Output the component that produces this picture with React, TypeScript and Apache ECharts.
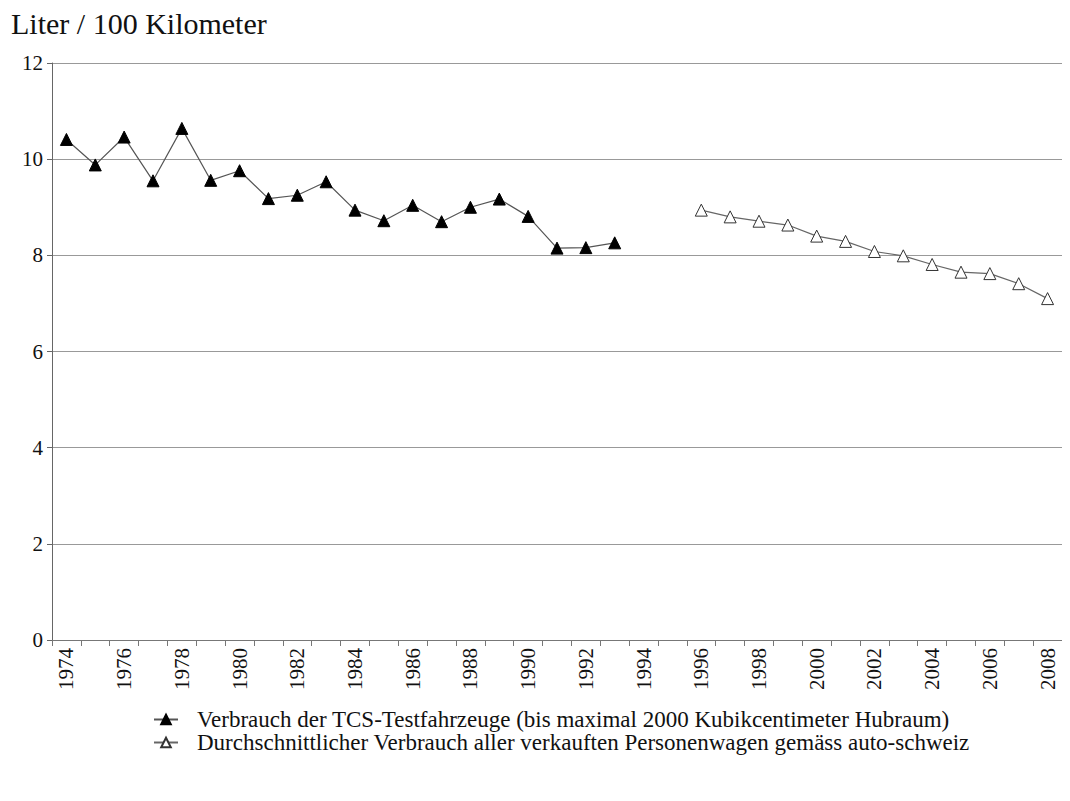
import React, { useEffect, useRef } from "react";
import * as echarts from "echarts";

const years: string[] = [];
for (let y = 1974; y <= 2008; y++) years.push(String(y));

const tcsYears = ["1974","1975","1976","1977","1978","1979","1980","1981","1982","1983","1984","1985","1986","1987","1988","1989","1990","1991","1992","1993"];
const tcsValues = [10.41, 9.88, 10.46, 9.55, 10.64, 9.56, 9.76, 9.18, 9.25, 9.53, 8.94, 8.72, 9.04, 8.7, 9.0, 9.17, 8.81, 8.15, 8.16, 8.26];

const avgYears = ["1996","1997","1998","1999","2000","2001","2002","2003","2004","2005","2006","2007","2008"];
const avgValues = [8.94, 8.8, 8.71, 8.63, 8.4, 8.29, 8.08, 7.99, 7.81, 7.65, 7.62, 7.41, 7.1];

const yTicks = [0, 2, 4, 6, 8, 10, 12];

const tcsName = "Verbrauch der TCS-Testfahrzeuge (bis maximal 2000 Kubikcentimeter Hubraum)";
const avgName = "Durchschnittlicher Verbrauch aller verkauften Personenwagen gemäss auto-schweiz";

const FONT = "'Liberation Serif', 'Times New Roman', serif";

function align(ys: string[], vs: number[]): (number | null)[] {
  return years.map((y) => {
    const i = ys.indexOf(y);
    return i >= 0 ? vs[i] : null;
  });
}

export default function App() {
  const ref = useRef<HTMLDivElement>(null);
  useEffect(() => {
    if (!ref.current) return;
    const chart = echarts.init(ref.current, null, { renderer: "svg" });
    chart.setOption({
      animation: false,
      backgroundColor: "#fff",
      textStyle: { fontFamily: FONT, color: "#111" },
      graphic: [
        {
          type: "text",
          left: 3,
          top: 0,
          style: { text: "Liter / 100 Kilometer", font: `30px ${FONT}`, fill: "#111" },
        },
      ],
      grid: { left: 44, right: 0, top: 55, bottom: 153, containLabel: false },
      xAxis: {
        type: "category",
        data: years,
        boundaryGap: true,
        axisLine: { lineStyle: { color: "#777", width: 1 } },
        axisTick: { show: true, interval: 0, length: 6, lineStyle: { color: "#777" } },
        axisLabel: {
          interval: 1,
          rotate: 90,
          fontSize: 21,
          fontFamily: FONT,
          color: "#111",
          margin: 8,
        },
        splitLine: { show: false },
      },
      yAxis: {
        type: "value",
        min: yTicks[0],
        max: yTicks[yTicks.length - 1],
        interval: 2,
        axisLine: { show: true, lineStyle: { color: "#666", width: 1 } },
        axisTick: { show: true, length: 5, lineStyle: { color: "#666" } },
        axisLabel: { fontSize: 21, fontFamily: FONT, color: "#111", margin: 9 },
        splitLine: { show: true, lineStyle: { color: "#999", width: 1 } },
      },
      legend: {
        orient: "vertical",
        left: 140,
        top: 695,
        itemGap: 0,
        itemWidth: 24,
        itemHeight: 12,
        textStyle: { fontSize: 23, fontFamily: FONT, color: "#111", padding: [0, 0, 0, 14] },
        data: [tcsName, avgName],
      },
      series: [
        {
          name: tcsName,
          type: "line",
          data: align(tcsYears, tcsValues),
          symbol: "triangle",
          symbolSize: 12,
          connectNulls: false,
          lineStyle: { color: "#555", width: 1.2 },
          itemStyle: { color: "#000", borderColor: "#000", borderWidth: 1 },
        },
        {
          name: avgName,
          type: "line",
          data: align(avgYears, avgValues),
          symbol: "triangle",
          symbolSize: 12,
          connectNulls: false,
          lineStyle: { color: "#666", width: 1.2 },
          itemStyle: { color: "#fff", borderColor: "#333", borderWidth: 1 },
        },
      ],
    });
    return () => chart.dispose();
  }, []);
  return <div ref={ref} style={{ width: 1054, height: 785 }} />;
}
